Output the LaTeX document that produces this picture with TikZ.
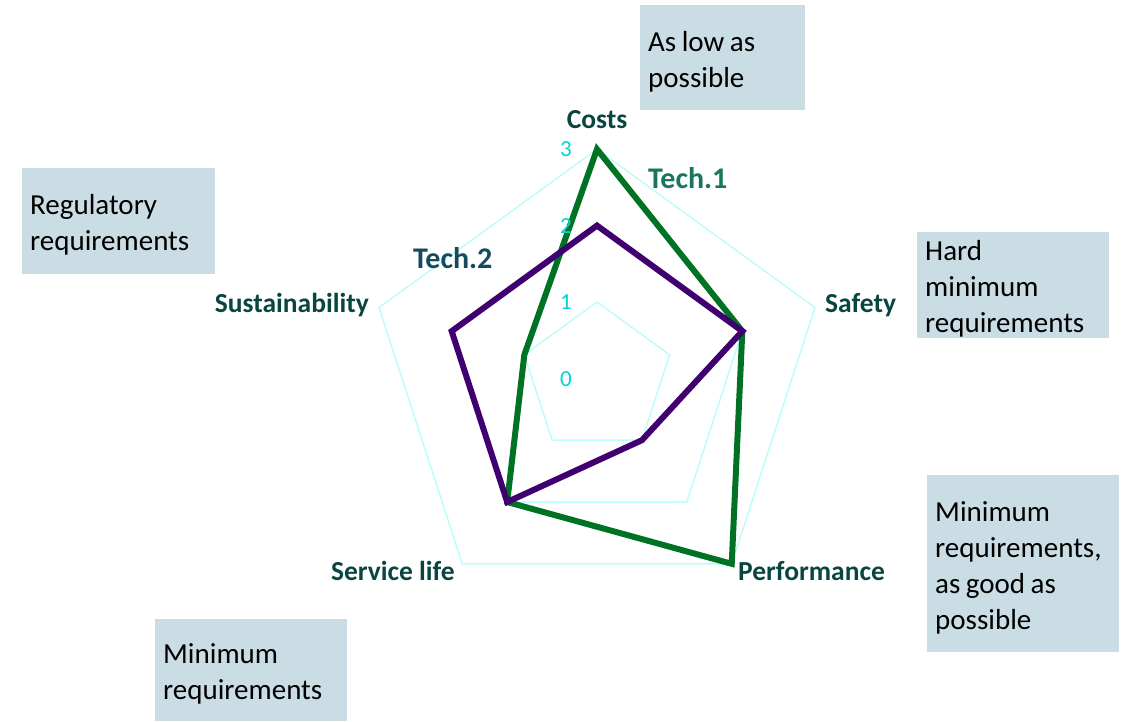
\documentclass[tikz,border=0pt]{standalone}
\usepackage{fontspec}
\setmainfont{Carlito}
\definecolor{gridc}{RGB}{190,252,252}
\definecolor{numc}{RGB}{0,212,212}
\definecolor{gseries}{RGB}{0,114,36}
\definecolor{pseries}{RGB}{64,0,112}
\definecolor{axlab}{RGB}{10,70,65}
\definecolor{tonec}{RGB}{24,118,94}
\definecolor{ttwoc}{RGB}{22,74,94}
\definecolor{boxc}{RGB}{203,221,228}
\newcommand\mynotefont{\fontsize{29}{36}\selectfont}
\newcommand\wsp{\hspace{5.5pt}}
\begin{document}
\begin{tikzpicture}[x=1pt,y=1pt,
  notebox/.style={fill=boxc, draw=none, anchor=north west, inner sep=0pt},
  notetext/.style={inner sep=0pt, anchor=center, yshift=-4pt, align=left,
    font=\mynotefont, text=black},
  gridline/.style={draw=gridc, line width=1.5pt},
  tech1line/.style={draw=gseries, line width=6pt},
  tech2line/.style={draw=pseries, line width=6pt},
  axislabel/.style={text=axlab, font=\fontsize{27.5}{30}\selectfont\bfseries, inner sep=0pt},
  numlabel/.style={text=numc, font=\fontsize{23}{26}\selectfont, inner sep=0pt, anchor=base east},
  serieslabel/.style={font=\fontsize{30}{32}\selectfont\bfseries, inner sep=0pt, anchor=base west}]
\useasboundingbox (0,0) rectangle (1122,721);
% note boxes
\node[notebox, minimum width=165pt, minimum height=105pt] (bcost) at (640,716) {};
\node[notetext, text width=149pt] (tcost) at (bcost.center) {As\wsp low\wsp as\\possible};
\node[notebox, minimum width=193pt, minimum height=106pt] (breg) at (22,553) {};
\node[notetext, text width=177pt] (treg) at (breg.center) {Regulatory\\requirements};
\node[notebox, minimum width=192pt, minimum height=106pt] (bsafe) at (917,489) {};
\node[notetext, text width=176pt] (tsafe) at (bsafe.center) {Hard\\minimum\\requirements};
\node[notebox, minimum width=192pt, minimum height=177pt] (bperf) at (927,246) {};
\node[notetext, text width=176pt] (tperf) at (bperf.center) {Minimum\\requirements,\\as\wsp good\wsp as\\possible};
\node[notebox, minimum width=192pt, minimum height=102pt] (bserv) at (155,102) {};
\node[notetext, text width=176pt] (tserv) at (bserv.center) {Minimum\\requirements};
% grid coordinates
\coordinate (C) at (597,342.6);
\foreach \k in {1,2,3}{
  \foreach \i/\a in {1/90,2/18,3/-54,4/-126,5/162}{
    \coordinate (g\k-\i) at ([shift={(597,342.6)}]\a:{76.4*\k});
  }
}
\foreach \k in {1,2,3}{
  \draw[gridline] (g\k-1) -- (g\k-2) -- (g\k-3) -- (g\k-4) -- (g\k-5) -- cycle;
}
% series
\draw[tech1line] (g3-1) -- (g2-2) -- (g3-3) -- (g2-4) -- (g1-5) -- cycle;
\draw[tech2line] (g2-1) -- (g2-2) -- (g1-3) -- (g2-4) -- (g2-5) -- cycle;
% axis labels
\node[axislabel, anchor=base] (lcost) at (597,592) {Costs};
\node[axislabel, anchor=base west] (lsafe) at (825,408) {Safety};
\node[axislabel, anchor=base west] (lperf) at (738,141) {Performance};
\node[axislabel, anchor=base east] (lserv) at (455,141) {Service life};
\node[axislabel, anchor=base east] (lsust) at (369,408) {Sustainability};
% scale numbers
\node[numlabel] (n3) at (572,564) {3};
\node[numlabel] (n2) at (572,487.5) {2};
\node[numlabel] (n1) at (572,411) {1};
\node[numlabel] (n0) at (572,334) {0};
% series labels
\node[serieslabel, text=tonec] (t1) at (648,532) {Tech.1};
\node[serieslabel, text=ttwoc] (t2) at (413,452) {Tech.2};
\end{tikzpicture}
\end{document}
